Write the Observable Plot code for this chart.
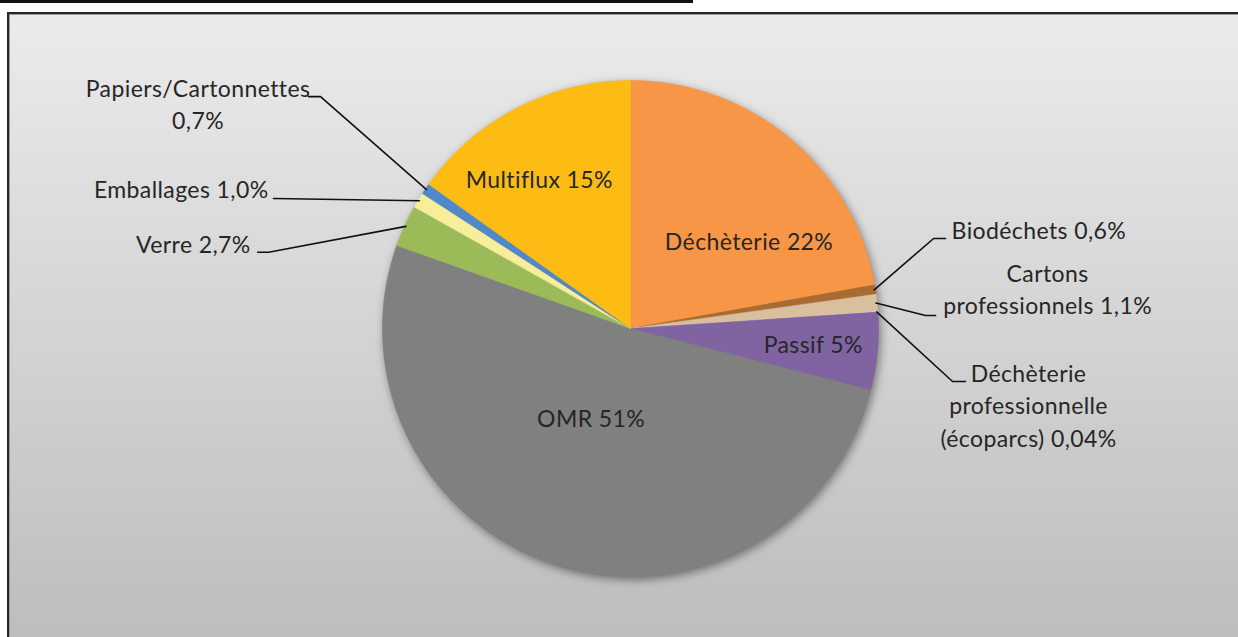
<!DOCTYPE html>
<html><head><meta charset="utf-8">
<script src="https://cdn.jsdelivr.net/npm/d3@7"></script>
<script src="https://cdn.jsdelivr.net/npm/@observablehq/plot@0.6"></script>
<style>
html,body{margin:0;padding:0;background:#fff}
body{width:1238px;height:637px;overflow:hidden;position:relative;font-family:Lato,sans-serif}
#topline{position:absolute;left:0;top:0;width:693px;height:3px;background:#111}
#frame{position:absolute;left:7px;top:12px;width:1231px;height:625px;box-sizing:border-box;border-left:2px solid #262626;border-top:2px solid #262626;background:linear-gradient(#EBEBEB,#BDBDBD);box-shadow:inset 1px 1px 0 #9a9a9a}
#chart{position:absolute;left:0;top:0}
</style></head><body>
<div id="topline"></div><div id="frame"></div><div id="chart"></div>
<script>
// ---- data ----
const categories = ["Déchèterie","Biodéchets","Cartons professionnels","Déchèterie professionnelle (écoparcs)","Passif","OMR","Verre","Emballages","Papiers/Cartonnettes","Multiflux"];
const values = [22, 0.6, 1.1, 0.04, 5, 51, 2.7, 1.0, 0.7, 15];
const labelTexts = [
  ["Déchèterie 22%"],
  ["Biodéchets 0,6%"],
  ["Cartons","professionnels 1,1%"],
  ["Déchèterie","professionnelle","(écoparcs) 0,04%"],
  ["Passif 5%"],
  ["OMR 51%"],
  ["Verre 2,7%"],
  ["Emballages 1,0%"],
  ["Papiers/Cartonnettes","0,7%"],
  ["Multiflux 15%"]
];
const colors = ["#F79646","#A86B31","#D9BF9D","#EBD3B8","#8064A2","#808080","#9BBB59","#F6EE98","#4F88CB","#FCBC14"];

// ---- layout (label placement, not data) ----
const labelLayout = [
  {inside:[54.1,0.59]},
  {elbow:[73.46,1.275], tick:12, tdx:18, tdy:-7, anchor:"start"},
  {elbow:[87.48,1.191], tick:10, tdx:122, tdy:-41, anchor:"middle"},
  {elbow:[99.35,1.316], tick:13, tdx:76, tdy:-7, anchor:"middle"},
  {inside:[95.3,0.74]},
  {inside:[203.4,0.40]},
  {elbow:[281.9,1.491], tick:-11, tdx:-18, tdy:-7, anchor:"end"},
  {elbow:[290.0,1.532], tick:0, tdx:-5, tdy:-7.5, anchor:"end"},
  {elbow:[306.8,1.561], tick:-12, tdx:-122.5, tdy:-7, anchor:"middle"},
  {inside:[328.3,0.70]}
];

const W=1238, H=637, CX=630, CY=328, R=248, FS=23, LH=32.5;
const rad = d => d*Math.PI/180;
const total = d3.sum(values);
let acc = 0;
const slices = categories.map((c,i)=>{
  const a0 = acc/total*2*Math.PI; acc += values[i];
  const a1 = acc/total*2*Math.PI;
  return {c, a0, a1, mid:(a0+a1)/2, i};
});
const wedgeRows = slices.flatMap(s=>{
  const n = Math.max(2, Math.ceil((s.a1-s.a0)/rad(0.5)));
  const pts = [{c:s.c,x:0,y:0}];
  for (let k=0;k<=n;k++){const a=s.a0+(s.a1-s.a0)*k/n; pts.push({c:s.c,x:Math.sin(a),y:Math.cos(a)});}
  pts.push({c:s.c,x:0,y:0});
  return pts;
});
const leaderRows = [];
const textRows = [];
slices.forEach(s=>{
  const L = labelLayout[s.i], lines = labelTexts[s.i];
  if (L.inside){
    const a = rad(L.inside[0]), d = L.inside[1];
    lines.forEach((t,k)=>textRows.push({t, anchor:"middle", x:d*Math.sin(a), y:d*Math.cos(a)-k*LH/R}));
  } else {
    const ea = rad(L.elbow[0]), ed = L.elbow[1];
    const ex = ed*Math.sin(ea), ey = ed*Math.cos(ea);
    leaderRows.push({c:s.c, x:Math.sin(s.mid)*0.995, y:Math.cos(s.mid)*0.995});
    leaderRows.push({c:s.c, x:ex, y:ey});
    leaderRows.push({c:s.c, x:ex+L.tick/R, y:ey});
    lines.forEach((t,k)=>textRows.push({t, anchor:L.anchor, x:ex+L.tdx/R, y:ey-(L.tdy+k*LH)/R}));
  }
});

const textMark = anchor => Plot.text(textRows.filter(d=>d.anchor===anchor), {
  x:"x", y:"y", text:"t", textAnchor:anchor, fontSize:FS, fontFamily:"Lato", fill:"#262626"
});

const chart = Plot.plot({
  width:W, height:H, margin:0,
  style:{background:"transparent", overflow:"visible", fontFamily:"Lato", letterSpacing:"0.4px"},
  x:{domain:[-CX/R,(W-CX)/R], axis:null},
  y:{domain:[-(H-CY)/R, CY/R], axis:null},
  color:{domain:categories, range:colors},
  marks:[
    Plot.dot([0], {x:()=>0, y:()=>0, r:R, fill:"#000", fillOpacity:0.45, stroke:"none", dx:2, dy:3}),
    Plot.line(wedgeRows, {x:"x", y:"y", z:"c", fill:"c", stroke:"c", strokeWidth:0.6, curve:"linear"}),
    Plot.line(leaderRows, {x:"x", y:"y", z:"c", stroke:"#111", strokeWidth:1.6, curve:"linear"}),
    textMark("start"), textMark("middle"), textMark("end")
  ]
});
const ns = "http://www.w3.org/2000/svg";
const defs = document.createElementNS(ns,"defs");
defs.innerHTML = '<filter id="pieShadow" x="-20%" y="-20%" width="140%" height="140%"><feGaussianBlur stdDeviation="5"/></filter>';
chart.insertBefore(defs, chart.firstChild);
const dotG = chart.querySelector('g[aria-label="dot"]');
if (dotG) dotG.setAttribute("filter","url(#pieShadow)");
document.getElementById("chart").appendChild(chart);
</script>
</body></html>
